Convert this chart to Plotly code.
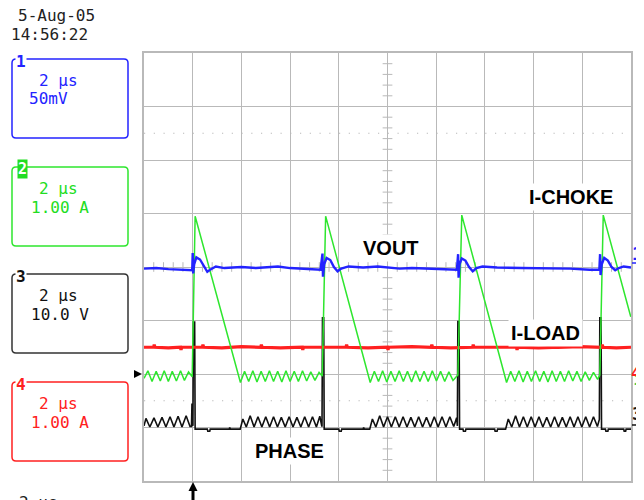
import plotly.graph_objects as go

# ---------------- data (time in µs, values in screen divisions) ----------------
vout_t = [-2.0, -1.5, -1.0, -0.5, -0.1, -0.02, 0.0, 0.02, 0.06, 0.15, 0.30, 0.45, 0.60, 0.75, 0.95, 1.3,
          2.0, 2.6, 3.0, 3.5, 4.0, 4.8, 5.25, 5.33, 5.35, 5.40, 5.50, 5.65, 5.80, 5.95, 6.10, 6.4,
          7.0, 7.6, 8.0, 8.5, 9.0, 10.0, 10.85, 10.90, 10.92, 10.96, 11.05, 11.2, 11.35, 11.5, 11.65, 11.9,
          12.5, 13.5, 14.5, 15.5, 16.3, 16.70, 16.73, 16.75, 16.80, 16.9, 17.05, 17.2, 17.35, 17.5, 17.7, 18.0]
vout_v = [-0.03, -0.02, -0.04, -0.05, -0.06, -0.06, 0.26, -0.12, 0.05, 0.18, 0.14, 0.02, -0.09, -0.04, 0.01, -0.02,
          0.0, -0.02, -0.01, 0.01, -0.02, -0.04, -0.05, 0.25, -0.18, 0.05, 0.17, 0.13, 0.0, -0.08, -0.03, 0.01,
          -0.01, 0.01, -0.01, -0.03, -0.02, -0.04, -0.05, 0.24, -0.20, 0.05, 0.16, 0.12, 0.0, -0.08, -0.02, 0.01,
          -0.01, -0.02, -0.02, -0.03, -0.05, -0.05, 0.24, -0.15, 0.05, 0.17, 0.12, 0.0, -0.06, -0.02, 0.01, -0.01]

ichoke_t = [-2.00, -1.84, -1.67, -1.50, -1.33, -1.17, -1.00, -0.84, -0.67, -0.50, -0.34, -0.17, -0.02,
            0.10, 1.96,
            2.13, 2.30, 2.47, 2.64, 2.81, 2.98, 3.15, 3.32, 3.49, 3.66, 3.83, 4.00, 4.17, 4.34, 4.51, 4.68,
            4.85, 5.02, 5.19, 5.32,
            5.46, 7.29,
            7.46, 7.63, 7.80, 7.97, 8.14, 8.31, 8.48, 8.65, 8.82, 8.99, 9.16, 9.33, 9.50, 9.67, 9.84, 10.01,
            10.18, 10.35, 10.52, 10.69, 10.89,
            11.05, 12.89,
            13.06, 13.23, 13.40, 13.57, 13.74, 13.91, 14.08, 14.25, 14.42, 14.59, 14.76, 14.93, 15.10, 15.27,
            15.44, 15.61, 15.78, 15.95, 16.12, 16.29, 16.46, 16.63, 16.72,
            16.86, 17.99]
ichoke_v = [-2.08, -1.94, -2.14, -1.95, -2.13, -1.94, -2.14, -1.95, -2.13, -1.94, -2.12, -1.96, -2.05,
            0.95, -2.16,
            -1.95, -2.14, -1.94, -2.15, -1.95, -2.14, -1.94, -2.14, -1.95, -2.15, -1.94, -2.14, -1.95, -2.14, -1.94, -2.13,
            -1.96, -2.12, -1.97, -2.04,
            0.95, -2.16,
            -1.95, -2.14, -1.94, -2.15, -1.95, -2.14, -1.94, -2.14, -1.95, -2.15, -1.94, -2.14, -1.95, -2.14, -1.94, -2.13,
            -1.95, -2.14, -1.96, -2.12, -2.02,
            0.97, -2.16,
            -1.95, -2.14, -1.94, -2.15, -1.95, -2.14, -1.94, -2.14, -1.95, -2.15, -1.94, -2.14, -1.95, -2.14,
            -1.94, -2.13, -1.95, -2.14, -1.96, -2.12, -1.97, -2.10, -2.02,
            0.97, -0.93]

phase_t = [-2.00, -1.92, -1.76, -1.59, -1.43, -1.26, -1.10, -0.93, -0.77, -0.60, -0.44, -0.27, -0.11,
           -0.05, -0.03, -0.01, 0.01, 0.03, 0.08, 0.10, 0.60, 0.62, 0.70, 0.72, 1.50, 1.52, 1.55, 1.95,
           2.06, 2.20, 2.36, 2.52, 2.68, 2.84, 3.00, 3.16, 3.32, 3.48, 3.64, 3.80, 3.96, 4.12, 4.28, 4.44,
           4.60, 4.76, 4.92, 5.08, 5.22, 5.30,
           5.31, 5.33, 5.38, 5.40, 6.00, 6.02, 6.10, 6.12, 7.00, 7.02, 7.05, 7.27,
           7.38, 7.52, 7.68, 7.84, 8.00, 8.16, 8.32, 8.48, 8.64, 8.80, 8.96, 9.12, 9.28, 9.44, 9.60, 9.76,
           9.92, 10.08, 10.24, 10.40, 10.56, 10.72, 10.84, 10.87,
           10.89, 10.94, 10.96, 11.10, 11.12, 11.20, 11.22, 12.40, 12.42, 12.50, 12.52, 12.85,
           12.96, 13.10, 13.26, 13.42, 13.58, 13.74, 13.90, 14.06, 14.22, 14.38, 14.54, 14.70, 14.86, 15.02,
           15.18, 15.34, 15.50, 15.66, 15.82, 15.98, 16.14, 16.30, 16.46, 16.62, 16.70,
           16.72, 16.77, 16.79, 16.95, 16.97, 17.05, 17.07, 17.70, 17.72, 17.78, 17.80, 18.0]
phase_v = [-2.97, -2.83, -2.99, -2.82, -2.99, -2.81, -2.99, -2.80, -2.99, -2.79, -2.99, -2.78, -2.98,
           -2.98, -2.55, -2.97, -2.97, -1.03, -1.03, -3.03, -3.03, -3.07, -3.07, -3.03, -3.03, -3.00, -3.03, -3.03,
           -2.84, -2.99, -2.78, -2.99, -2.80, -2.99, -2.80, -2.99, -2.80, -2.99, -2.81, -2.99, -2.80, -2.99, -2.81, -2.99,
           -2.80, -2.99, -2.80, -2.99, -2.79, -2.97,
           -2.97, -0.95, -0.95, -3.03, -3.03, -3.07, -3.07, -3.03, -3.03, -3.00, -3.03, -3.03,
           -2.84, -2.99, -2.78, -2.99, -2.80, -2.99, -2.80, -2.99, -2.80, -2.99, -2.81, -2.99, -2.80, -2.99, -2.81, -2.99,
           -2.80, -2.99, -2.80, -2.99, -2.80, -2.98, -2.82, -2.97,
           -1.02, -1.02, -3.03, -3.03, -3.07, -3.07, -3.03, -3.03, -3.07, -3.07, -3.03, -3.03,
           -2.84, -2.99, -2.78, -2.99, -2.80, -2.99, -2.80, -2.99, -2.80, -2.99, -2.81, -2.99, -2.80, -2.99,
           -2.81, -2.99, -2.80, -2.99, -2.80, -2.99, -2.80, -2.99, -2.80, -2.98, -2.85,
           -0.95, -0.95, -3.03, -3.03, -3.07, -3.07, -3.03, -3.03, -3.07, -3.07, -3.03, -3.03]

iload_t = [-2.0, -1.6, -1.58, -1.55, -1.0, -0.5, -0.48, -0.45, 0.4, 0.42, 0.45, 1.2, 2.0, 2.8, 2.82, 2.85,
           3.6, 4.5, 4.52, 4.55, 5.5, 6.3, 6.32, 6.35, 7.2, 8.0, 8.02, 8.05, 9.0, 9.8, 9.82, 9.85, 10.6,
           11.5, 11.52, 11.55, 12.4, 13.3, 13.32, 13.35, 14.2, 15.0, 15.02, 15.05, 15.9, 16.8, 16.82, 16.85,
           17.4, 18.0]
iload_v = [-1.50, -1.50, -1.45, -1.50, -1.51, -1.50, -1.55, -1.50, -1.50, -1.45, -1.50, -1.51, -1.49, -1.50, -1.45, -1.50,
           -1.51, -1.50, -1.55, -1.50, -1.50, -1.50, -1.45, -1.50, -1.51, -1.50, -1.55, -1.50, -1.49, -1.50, -1.45, -1.50, -1.51,
           -1.50, -1.45, -1.50, -1.50, -1.50, -1.55, -1.50, -1.51, -1.50, -1.45, -1.50, -1.49, -1.50, -1.45, -1.50,
           -1.51, -1.50]

trace_labels = ["VOUT", "I-CHOKE", "I-LOAD", "PHASE"]
channel_time = ["2 µs", "2 µs", "2 µs", "2 µs"]
channel_scale = ["50mV", "1.00 A", "10.0 V", "1.00 A"]
date_text = "5-Aug-05"
time_text = "14:56:22"

# ---------------- geometry helpers (reference pixels -> paper) ----------------
# the page body has an 8px margin; all reference pixel positions are measured
# in the window frame and converted to plot-area paper coordinates.
OFF = 8
FW, FH = 644, 500 - OFF
PL, PT, PW, PH = 144, 53, 487, 428          # plot area in window pixels
def px(x):
    return (x - PL) / PW
def py(y):
    return (PT + PH - y) / PH

BLUE, GREEN, BLACK, RED = "#2323ff", "#2ee62e", "#111111", "#ff2020"
GRID = "#b9b9b9"
MONO = "DejaVu Sans Mono"
SANS = "Liberation Sans"

fig = go.Figure()

# centre-cross minor ticks and dotted 25/75 % lines (graticule decoration)
shapes = []
for k in range(41):
    if k % 5:
        yv = -4 + k * 0.2
        shapes.append(dict(type="line", xref="x", yref="y", x0=8 - 0.2, x1=8 + 0.2, y0=yv, y1=yv,
                           line=dict(color=GRID, width=1), layer="between"))
for k in range(51):
    if k % 5:
        xv = -2 + k * 0.4
        shapes.append(dict(type="line", xref="x", yref="y", x0=xv, x1=xv, y0=-0.09, y1=0.09,
                           line=dict(color=GRID, width=1), layer="between"))
for yv in (2.5, -2.5):
    shapes.append(dict(type="line", xref="x", yref="y", x0=-2, x1=18, y0=yv, y1=yv,
                       line=dict(color=GRID, width=1.2, dash="1.2px,8.55px"), layer="between"))

fig.add_trace(go.Scatter(x=phase_t, y=phase_v, mode="lines", line=dict(color=BLACK, width=1.6), hoverinfo="skip"))
fig.add_trace(go.Scatter(x=iload_t, y=iload_v, mode="lines", line=dict(color=RED, width=3.2), hoverinfo="skip"))
fig.add_trace(go.Scatter(x=ichoke_t, y=ichoke_v, mode="lines", line=dict(color=GREEN, width=1.5), hoverinfo="skip"))
fig.add_trace(go.Scatter(x=vout_t, y=vout_v, mode="lines", line=dict(color=BLUE, width=2.4), hoverinfo="skip"))

# channel boxes on the left
def rrect(x0, y0, x1, y1, r=4):
    X = lambda v: f"{px(v):.5f}"
    Y = lambda v: f"{py(v):.5f}"
    return (f"M {X(x0 + r)},{Y(y0)} L {X(x1 - r)},{Y(y0)} Q {X(x1)},{Y(y0)} {X(x1)},{Y(y0 + r)} "
            f"L {X(x1)},{Y(y1 - r)} Q {X(x1)},{Y(y1)} {X(x1 - r)},{Y(y1)} "
            f"L {X(x0 + r)},{Y(y1)} Q {X(x0)},{Y(y1)} {X(x0)},{Y(y1 - r)} "
            f"L {X(x0)},{Y(y0 + r)} Q {X(x0)},{Y(y0)} {X(x0 + r)},{Y(y0)} Z")

annotations = []
box_tops = [59, 167, 274, 382]
box_cols = [BLUE, GREEN, "#333333", RED]
txt_cols = [BLUE, "#22dd22", BLACK, RED]
for i, (top, bc, tc) in enumerate(zip(box_tops, box_cols, txt_cols)):
    shapes.append(dict(type="path", xref="paper", yref="paper", path=rrect(12, top, 128, top + 79),
                       line=dict(color=bc, width=1.5)))
    annotations.append(dict(xref="paper", yref="paper", x=px(37), y=py(top + 21), xanchor="left", yanchor="middle",
                            text=channel_time[i], showarrow=False, font=dict(family=MONO, size=16, color=tc)))
    sx = 27 if i == 0 else 29
    annotations.append(dict(xref="paper", yref="paper", x=px(sx), y=py(top + 40), xanchor="left", yanchor="middle",
                            text=channel_scale[i], showarrow=False, font=dict(family=MONO, size=16, color=tc)))
    if i == 1:
        annotations.append(dict(xref="paper", yref="paper", x=px(22), y=py(top + 2), xanchor="center", yanchor="middle",
                                text="<b>2</b>", showarrow=False, bgcolor="#22dd22", borderpad=0,
                                font=dict(family=MONO, size=15, color="white")))
    else:
        annotations.append(dict(xref="paper", yref="paper", x=px(21), y=py(top + 2), xanchor="center", yanchor="middle",
                                text=f"<b>{i + 1}</b>", showarrow=False, bgcolor="white", borderpad=0,
                                font=dict(family=MONO, size=16, color=tc)))

annotations.append(dict(xref="paper", yref="paper", x=px(16), y=py(16), xanchor="left", yanchor="middle",
                        text=date_text, showarrow=False, font=dict(family=MONO, size=16, color="#222")))
annotations.append(dict(xref="paper", yref="paper", x=px(9), y=py(35), xanchor="left", yanchor="middle",
                        text=time_text, showarrow=False, font=dict(family=MONO, size=16, color="#222")))
annotations.append(dict(xref="paper", yref="paper", x=px(17), y=py(502), xanchor="left", yanchor="middle",
                        text="2 µs", showarrow=False, font=dict(family=MONO, size=16, color="#222")))

# trace labels
label_pos = [(391, 248), (571, 197), (545, 333), (289, 451)]
for lab, (lx, ly) in zip(trace_labels, label_pos):
    annotations.append(dict(xref="paper", yref="paper", x=px(lx), y=py(ly), xanchor="center", yanchor="middle",
                            text=f"<b>{lab}</b>", showarrow=False, bgcolor="white", borderpad=2,
                            font=dict(family=SANS, size=20, color="black")))

# right-side channel markers
annotations.append(dict(xref="paper", yref="paper", x=px(643), y=py(254), xanchor="right", yanchor="middle",
                        text="<b>1</b>", showarrow=False, borderpad=0, font=dict(family=MONO, size=17, color=BLUE)))
shapes.append(dict(type="line", xref="paper", yref="paper", x0=px(632), x1=px(644), y0=py(263), y1=py(263),
                   line=dict(color=BLUE, width=1.5)))
annotations.append(dict(xref="paper", yref="paper", x=px(643), y=py(380), xanchor="right", yanchor="middle",
                        text="2", showarrow=False, borderpad=0, font=dict(family=MONO, size=14, color="#33dd33")))
annotations.append(dict(xref="paper", yref="paper", x=px(642), y=py(373), xanchor="right", yanchor="middle",
                        text="<b>4</b>", showarrow=False, borderpad=0, font=dict(family=MONO, size=16, color=RED)))
shapes.append(dict(type="path", xref="paper", yref="paper",
                   path=f"M {px(634):.5f},{py(384):.5f} L {px(642):.5f},{py(381):.5f} L {px(642):.5f},{py(387):.5f} Z",
                   fillcolor="#444", line=dict(width=0)))
annotations.append(dict(xref="paper", yref="paper", x=px(643), y=py(414), xanchor="right", yanchor="middle",
                        text="<b>3</b>", showarrow=False, borderpad=0, font=dict(family=MONO, size=17, color=BLACK)))
shapes.append(dict(type="line", xref="paper", yref="paper", x0=px(632), x1=px(644), y0=py(425), y1=py(425),
                   line=dict(color=BLACK, width=1.5)))

# left trigger-level marker and bottom trigger arrow
shapes.append(dict(type="path", xref="paper", yref="paper",
                   path=f"M {px(134):.5f},{py(370):.5f} L {px(142):.5f},{py(374):.5f} L {px(134):.5f},{py(378):.5f} Z",
                   fillcolor="black", line=dict(width=0)))
shapes.append(dict(type="line", xref="paper", yref="paper", x0=px(193), x1=px(193), y0=py(489), y1=py(500),
                   line=dict(color="black", width=3)))
shapes.append(dict(type="path", xref="paper", yref="paper",
                   path=f"M {px(188.5):.5f},{py(491):.5f} L {px(193):.5f},{py(482):.5f} L {px(197.5):.5f},{py(491):.5f} Z",
                   fillcolor="black", line=dict(width=0)))

axis_common = dict(showticklabels=False, ticks="", zeroline=False, showgrid=True, gridcolor=GRID, gridwidth=1,
                   showline=True, linecolor=GRID, linewidth=1.5, mirror=True, fixedrange=True)
fig.update_layout(
    width=FW, height=FH,
    margin=dict(l=PL - OFF, r=FW - (PL - OFF) - PW, t=PT - OFF, b=FH - (PT - OFF) - PH, autoexpand=False),
    paper_bgcolor="white", plot_bgcolor="white",
    showlegend=False,
    xaxis=dict(range=[-2, 18], tick0=0, dtick=2, **axis_common),
    yaxis=dict(range=[-4, 4], tick0=0, dtick=1, **axis_common),
    shapes=shapes,
    annotations=annotations,
)

# the page is exactly as large as the window: stop the browser from adding scrollbars
fig.write_html("out.html", post_script="document.documentElement.style.overflow='hidden';")
